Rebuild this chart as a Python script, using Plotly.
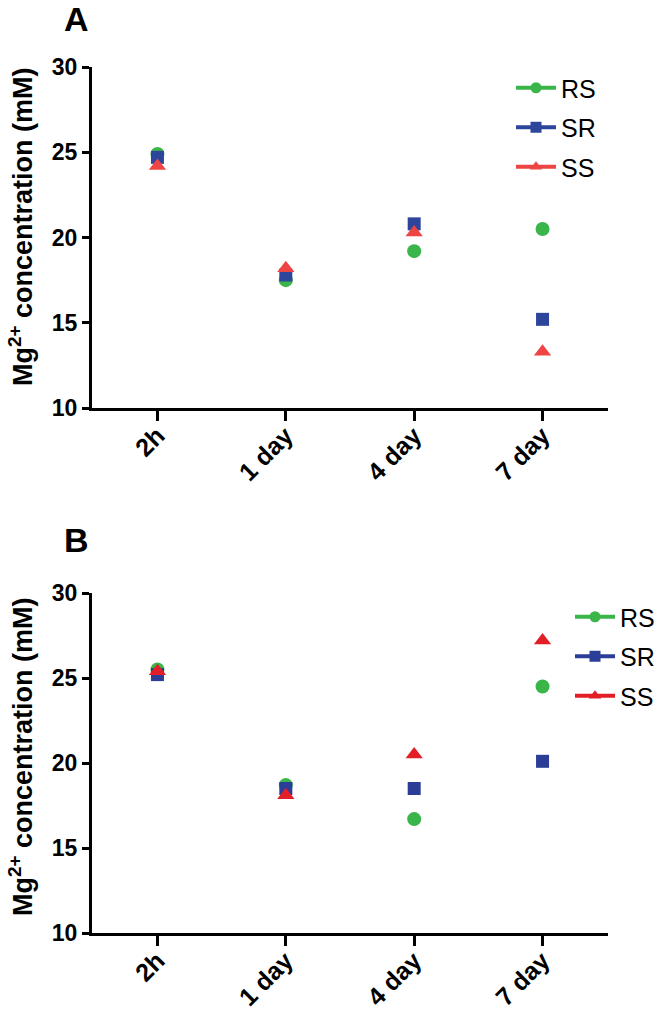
import plotly.graph_objects as go

categories = ["2h", "1 day", "4 day", "7 day"]
series_names = ["RS", "SR", "SS"]

# Panel A
a_rs = [24.9, 17.5, 19.2, 20.5]
a_sr = [24.7, 17.8, 20.8, 15.2]
a_ss = [24.2, 18.2, 20.3, 13.3]

# Panel B
b_rs = [25.5, 18.7, 16.7, 24.5]
b_sr = [25.2, 18.5, 18.5, 20.1]
b_ss = [25.4, 18.1, 20.5, 27.2]

y_ticks = [10, 15, 20, 25, 30]

colors_a = {"RS": "#3ab54a", "SR": "#2e459c", "SS": "#ef4444"}
colors_b = {"RS": "#3ab54a", "SR": "#2b3d96", "SS": "#e41e26"}
symbols = {"RS": "circle", "SR": "square", "SS": "triangle-up"}
sizes = {"RS": 14, "SR": 13, "SS": 15}

W, H = 662, 1015


def px_x(p):
    return p / W


def px_y(p):
    return 1 - p / H


fig = go.Figure()

panels = [
    ("x", "y", {"RS": a_rs, "SR": a_sr, "SS": a_ss}, colors_a, "legend"),
    ("x2", "y2", {"RS": b_rs, "SR": b_sr, "SS": b_ss}, colors_b, "legend2"),
]

for xa, ya, data, cols, leg in panels:
    for name in series_names:
        fig.add_trace(go.Scatter(
            x=categories, y=data[name], mode="markers",
            marker=dict(symbol=symbols[name], size=sizes[name], color=cols[name],
                        line=dict(width=0)),
            xaxis=xa, yaxis=ya, showlegend=False, hoverinfo="skip"))
    for name in series_names:
        fig.add_trace(go.Scatter(
            x=[None], y=[None], mode="lines+markers", name=name,
            line=dict(color=cols[name], width=4),
            marker=dict(symbol=symbols[name], size=11, color=cols[name]),
            xaxis=xa, yaxis=ya, legend=leg, legendgroup=leg + name,
            showlegend=True))

FAM = "Liberation Sans, Arial, sans-serif"
xaxis_common = dict(
    type="category", categoryorder="array", categoryarray=categories,
    range=[-0.51, 3.51], showline=True, linewidth=3, linecolor="black",
    ticks="outside", ticklen=10, tickwidth=3, tickcolor="black",
    tickangle=-45, tickfont=dict(family=FAM, size=25, color="black", weight="bold"),
    ticklabelstandoff=-10,
    showgrid=False, zeroline=False, fixedrange=True, automargin=False,
    domain=[px_x(92), px_x(608)],
)
yaxis_common = dict(
    range=[10, 30], tickvals=y_ticks, showline=True, linewidth=3, linecolor="black",
    ticks="outside", ticklen=7, tickwidth=3, tickcolor="black",
    tickfont=dict(family=FAM, size=23, color="black", weight="bold"),
    showgrid=False, zeroline=False, fixedrange=True, automargin=False,
)

fig.update_layout(
    width=W, height=H,
    margin=dict(l=0, r=0, t=0, b=0, pad=0, autoexpand=False),
    paper_bgcolor="white", plot_bgcolor="white",
    font=dict(family=FAM, color="black"),
    xaxis=dict(xaxis_common, anchor="y"),
    yaxis=dict(yaxis_common, anchor="x", domain=[px_y(408), px_y(67)]),
    xaxis2=dict(xaxis_common, anchor="y2"),
    yaxis2=dict(yaxis_common, anchor="x2", domain=[px_y(933), px_y(593)]),
    legend=dict(x=px_x(511), y=px_y(65), xanchor="left", yanchor="top",
                font=dict(size=25, color="black"), tracegroupgap=4,
                itemwidth=40, bgcolor="rgba(0,0,0,0)"),
    legend2=dict(x=px_x(570), y=px_y(594), xanchor="left", yanchor="top",
                 font=dict(size=25, color="black"), tracegroupgap=4,
                 itemwidth=40, bgcolor="rgba(0,0,0,0)"),
    showlegend=True,
)

annotations = [
    dict(text="<b>A</b>", x=px_x(76), y=px_y(19), font=dict(size=34)),
    dict(text="<b>B</b>", x=px_x(76), y=px_y(540), font=dict(size=34)),
    dict(text="<b>Mg<sup>2+</sup> concentration (mM)</b>", x=px_x(21), y=px_y(227),
         textangle=-90, font=dict(size=27)),
    dict(text="<b>Mg<sup>2+</sup> concentration (mM)</b>", x=px_x(21), y=px_y(757),
         textangle=-90, font=dict(size=27)),
]
for a in annotations:
    a.update(xref="paper", yref="paper", showarrow=False, xanchor="center", yanchor="middle")
    a["font"].update(family=FAM, color="black")
fig.update_layout(annotations=annotations)

fig.write_html(
    "out.html",
    config={"displayModeBar": False, "staticPlot": True},
    post_script="document.body.style.margin='0';document.body.style.overflow='hidden';",
)
